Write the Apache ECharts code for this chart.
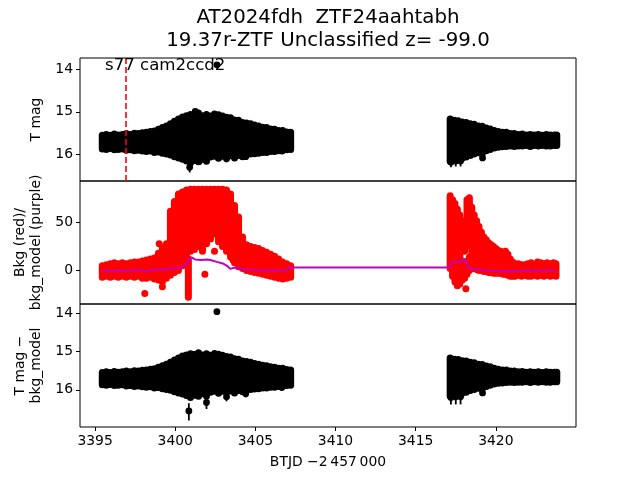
<!DOCTYPE html>
<html><head><meta charset="utf-8">
<script src="https://cdn.jsdelivr.net/npm/echarts@6/dist/echarts.min.js"></script>
<style>html,body{margin:0;padding:0;background:#fff}#c{width:640px;height:480px}</style>
</head><body><div id="c"></div>
<script>
// ---------- data ----------
const titleLines = ["AT2024fdh  ZTF24aahtabh", "19.37r-ZTF Unclassified z= -99.0"];
const sectorLabel = "s77 cam2ccd2";
const xLabel = "BTJD \u22122\u2009457\u2009000";
const xTicks = [3395, 3400, 3405, 3410, 3415, 3420];
const magTicks = [14, 15, 16];
const bkgTicks = [0, 50];
const markTime = 3396.94;

// black light-curve band (T mag): time, brightest, faintest
const blkT = [3395.45,3395.7,3395.95,3396.2,3396.45,3396.7,3396.95,3397.2,3397.45,3397.7,3397.95,3398.2,3398.45,3398.7,3398.95,3399.2,3399.45,3399.7,3399.95,3400.2,3400.45,3400.7,3400.95,3401.2,3401.45,3401.7,3401.95,3402.2,3402.45,3402.7,3402.95,3403.2,3403.45,3403.7,3403.95,3404.2,3404.45,3404.7,3404.95,3405.2,3405.45,3405.7,3405.95,3406.2,3406.45,3406.7,3406.95,3407.2,
 3417.15,3417.4,3417.65,3417.9,3418.15,3418.4,3418.65,3418.9,3419.15,3419.4,3419.65,3419.9,3420.15,3420.4,3420.65,3420.9,3421.15,3421.4,3421.65,3421.9,3422.15,3422.4,3422.65,3422.9,3423.15,3423.4,3423.65,3423.8];
const blkTop = [15.55,15.53,15.55,15.52,15.54,15.53,15.51,15.53,15.50,15.51,15.49,15.48,15.46,15.45,15.41,15.37,15.33,15.28,15.22,15.17,15.12,15.09,15.06,15.08,15.03,15.09,15.06,15.10,15.05,15.07,15.10,15.13,15.14,15.19,15.20,15.25,15.26,15.28,15.31,15.33,15.36,15.37,15.40,15.41,15.44,15.44,15.47,15.48,
 15.17,15.20,15.21,15.24,15.25,15.28,15.29,15.33,15.34,15.38,15.40,15.44,15.46,15.48,15.48,15.51,15.51,15.53,15.52,15.54,15.53,15.54,15.53,15.55,15.53,15.54,15.54,15.54];
const blkBot = [15.87,15.88,15.86,15.89,15.88,15.87,15.90,15.89,15.91,15.90,15.92,15.93,15.92,15.95,15.94,15.97,15.99,16.01,16.05,16.08,16.11,16.15,16.20,16.14,16.17,16.10,16.16,16.06,16.04,16.09,16.04,16.07,16.03,16.08,16.02,16.05,16.00,15.99,15.98,15.97,15.95,15.95,15.93,15.93,15.91,15.90,15.89,15.88,
 16.16,16.13,16.13,16.09,16.06,16.02,15.99,15.96,15.98,15.91,15.88,15.85,15.83,15.82,15.81,15.80,15.81,15.80,15.80,15.79,15.81,15.79,15.80,15.79,15.80,15.80,15.79,15.79];

// individual points with error bars (panel 1): time, mag, low, high
const err1T = [3400.9, 3401.25, 3401.6, 3403.2, 3404.4, 3406.67, 3417.2, 3417.5, 3417.8, 3419.17, 3402.6];
const err1M = [16.30, 14.99, 16.12, 16.10, 16.05, 15.92, 16.18, 16.15, 16.15, 16.08, 13.90];
const err1Lo = [16.18, 14.96, 16.05, 16.02, 16.00, 15.90, 16.10, 16.08, 16.08, 16.04, 13.88];
const err1Hi = [16.42, 15.02, 16.23, 16.18, 16.10, 15.94, 16.30, 16.28, 16.28, 16.12, 13.92];
// panel 3 (T mag - bkg_model)
const err3T = [3400.85, 3401.2, 3401.95, 3403.2, 3404.4, 3406.65, 3417.2, 3417.5, 3417.8, 3419.17, 3402.6];
const err3M = [16.55, 15.08, 16.33, 16.18, 16.10, 15.94, 16.20, 16.18, 16.18, 16.08, 13.96];
const err3Lo = [16.35, 15.05, 16.20, 16.05, 16.02, 15.92, 16.10, 16.08, 16.08, 16.04, 13.94];
const err3Hi = [16.80, 15.11, 16.50, 16.30, 16.20, 15.96, 16.38, 16.38, 16.38, 16.12, 13.98];

// background flux (red): time, low, high
const redT = [3395.45,3395.7,3395.95,3396.2,3396.45,3396.7,3396.95,3397.2,3397.45,3397.7,3397.95,3398.2,3398.45,3398.7,3398.95,3399.2,3399.45,3399.7,3399.95,3400.2,3400.45,3400.7,3400.95,3401.2,3401.45,3401.7,3401.95,3402.2,3402.45,3402.7,3402.95,3403.2,3403.45,3403.7,3403.95,3404.2,3404.45,3404.7,3404.95,3405.2,3405.45,3405.7,3405.95,3406.2,3406.45,3406.7,3406.95,3407.2,
 3398.1,3399.2,3399.0,3400.82,3401.85,3402.45,3403.6,
 3417.15,3417.3,3417.45,3417.45,3417.6,3417.6,3417.75,3417.75,3417.9,3417.9,3418.05,3418.05,3418.2,3418.2,3418.35,3418.35,3418.5,3418.65,3418.8,3418.95,3419.1,3419.25,3419.4,3419.55,3419.7,3419.85,3420.0,3420.15,3420.3,3420.45,3420.6,3420.75,3420.9,3421.05,3421.2,3421.4,3421.6,3421.8,3422.0,3422.2,3422.4,3422.6,3422.8,3423.0,3423.2,3423.4,3423.6,3423.75,
 3418.13];
const redLo = [-7,-6,-7,-6,-7,-6,-7,-6,-7,-6,-8,-8,-7,-9,-10,-12,-8,-5,-2,0,5,14,20,22,25,20,28,33,38,30,25,20,14,8,4,2,0,-1,-2,-3,-4,-5,-6,-7,-8,-9,-8,-7,
 -24,-17,28,-28,-4,20,11,
 2,-6,-12,40,-16,34,-14,28,-10,24,-8,20,-4,28,0,26,2,2,1,0,0,-1,-1,-2,-2,-3,-3,-3,-3,-4,-4,-5,-6,-6,-6,-5,-6,-5,-6,-6,-5,-6,-5,-6,-5,-6,-5,-6,
 -19];
const redHi = [5,6,7,8,7,8,7,8,9,9,10,11,12,13,18,24,28,62,72,80,82,84,85,85,85,85,85,85,85,85,85,84,80,68,56,35,27,25,24,23,21,19,17,15,12,9,7,5,
 -24,-17,28,12,-4,20,11,
 78,74,30,70,22,64,16,58,10,52,6,48,10,74,14,76,66,58,52,46,40,35,32,29,27,25,23,21,20,18,20,17,12,9,7,7,6,6,7,8,6,9,8,7,8,7,8,7,
 -19];

// background model (purple)
const bkgT = [3395.42,3396.0,3396.5,3397.0,3397.5,3398.0,3398.2,3398.5,3399.0,3399.5,3399.69,3400.1,3400.3,3400.52,3400.75,3400.94,3401.1,3401.25,3401.6,3402.0,3402.19,3402.6,3403.02,3403.3,3403.44,3403.6,3403.85,3404.2,3404.48,3405.0,3405.31,3406.0,3406.56,3407.0,3407.08,3417.15,3417.2,3417.5,3417.81,3418.02,3418.15,3418.23,3418.44,3418.85,3419.5,3420.1,3420.8,3421.36,3422.0,3422.5,3423.0,3423.77];
const bkgV = [0,-0.5,0,-0.5,0.5,0,-1,0.5,1,1.5,2,3,2.5,5,8,14,13,11.5,11,11.5,11,9,7,4,1.7,2.5,3,1.5,0.7,0.5,0,0.3,0,0.3,3.2,3.2,8.5,9,10.5,11.5,8,5,1.7,0.8,0,-0.7,-0.5,-0.8,0,-0.3,0,0];

// ---------- build ----------
const FONT = 'DejaVu Sans';
const zip3 = (a, b, c) => a.map((v, i) => [v, b[i], c[i]]);
const zip4 = (a, b, c, d) => a.map((v, i) => [v, b[i], c[i], d[i]]);

function bandRender(color, width) {
  return function (params, api) {
    const p1 = api.coord([api.value(0), api.value(1)]);
    const p2 = api.coord([api.value(0), api.value(2)]);
    if (Math.abs(p1[1] - p2[1]) < 0.5) {
      return { type: 'circle', shape: { cx: p1[0], cy: p1[1], r: width / 2 }, style: { fill: color } };
    }
    return { type: 'line', shape: { x1: p1[0], y1: p1[1], x2: p2[0], y2: p2[1] },
      style: { stroke: color, lineWidth: width, lineCap: 'round' } };
  };
}
function errRender(color) {
  return function (params, api) {
    const c = api.coord([api.value(0), api.value(1)]);
    const lo = api.coord([api.value(0), api.value(2)]);
    const hi = api.coord([api.value(0), api.value(3)]);
    return { type: 'group', children: [
      { type: 'line', shape: { x1: lo[0], y1: lo[1], x2: hi[0], y2: hi[1] }, style: { stroke: color, lineWidth: 1.8 } },
      { type: 'circle', shape: { cx: c[0], cy: c[1], r: 3.4 }, style: { fill: color } }
    ] };
  };
}

const L = 80, R = 64, H = 123, tops = [58, 181, 304];
const grids = tops.map(t => ({ left: L, right: R, top: t, height: H, show: true, borderColor: '#000', borderWidth: 1, backgroundColor: 'transparent' }));

const labelStyle = { color: '#000', fontFamily: FONT, fontSize: 13.9, formatter: v => String(v) };
const xAxes = [0, 1, 2].map(i => ({
  type: 'value', gridIndex: i, min: 3394.06, max: 3425.0,
  axisLine: { show: false }, splitLine: { show: false },
  axisTick: { show: i === 2, customValues: xTicks, length: 4, lineStyle: { color: '#000' } },
  axisLabel: Object.assign({ show: i === 2, customValues: xTicks, margin: 7 }, labelStyle),
  name: i === 2 ? xLabel : '', nameLocation: 'middle', nameGap: 28,
  nameTextStyle: { color: '#000', fontFamily: FONT, fontSize: 13.9 }
}));
function yAx(i, min, max, inverse, ticks, name, gap) {
  return { type: 'value', gridIndex: i, min: min, max: max, inverse: inverse,
    axisLine: { show: false }, splitLine: { show: false },
    axisTick: { show: true, customValues: ticks, length: 4, lineStyle: { color: '#000' } },
    axisLabel: Object.assign({ customValues: ticks, margin: 7 }, labelStyle),
    name: name, nameLocation: 'middle', nameGap: gap, nameRotate: 90,
    nameTextStyle: { color: '#000', fontFamily: FONT, fontSize: 13.9, lineHeight: 16, align: 'center' } };
}
const yAxes = [
  yAx(0, 13.74, 16.62, true, magTicks, 'T mag', 35),
  yAx(1, -35, 93.5, false, bkgTicks, 'Bkg (red)/\nbkg_model (purple)', 35),
  yAx(2, 13.76, 16.97, true, magTicks, 'T mag \u2212\nbkg_model', 35)
];

const series = [
  { type: 'custom', xAxisIndex: 0, yAxisIndex: 0, data: zip3(blkT, blkTop, blkBot), renderItem: bandRender('#000', 7), clip: true, silent: true },
  { type: 'custom', xAxisIndex: 0, yAxisIndex: 0, data: zip4(err1T, err1M, err1Lo, err1Hi), renderItem: errRender('#000'), clip: true, silent: true },
  { type: 'scatter', xAxisIndex: 0, yAxisIndex: 0, data: [], silent: true,
    markLine: { symbol: 'none', silent: true, animation: false, label: { show: false },
      lineStyle: { color: '#ff0000', type: [6, 3], width: 1.6 }, data: [{ xAxis: markTime }] } },
  { type: 'custom', xAxisIndex: 1, yAxisIndex: 1, data: zip3(redT, redLo, redHi), renderItem: bandRender('#ff0000', 7), clip: true, silent: true },
  { type: 'line', xAxisIndex: 1, yAxisIndex: 1, data: bkgT.map((t, i) => [t, bkgV[i]]), showSymbol: false, symbol: 'none',
    lineStyle: { color: '#bf00bf', width: 2 }, silent: true, z: 5 },
  { type: 'custom', xAxisIndex: 2, yAxisIndex: 2, data: zip3(blkT, blkTop, blkBot), renderItem: bandRender('#000', 7), clip: true, silent: true },
  { type: 'custom', xAxisIndex: 2, yAxisIndex: 2, data: zip4(err3T, err3M, err3Lo, err3Hi), renderItem: errRender('#000'), clip: true, silent: true }
];

const chart = echarts.init(document.getElementById('c'), null, { renderer: 'canvas' });
chart.setOption({
  animation: false,
  backgroundColor: '#fff',
  grid: grids, xAxis: xAxes, yAxis: yAxes, series: series,
  graphic: [
    { type: 'text', x: 328, y: 8, z: 10,
      style: { text: titleLines[0], font: '19.8px "DejaVu Sans"', fill: '#000', align: 'center', verticalAlign: 'top' } },
    { type: 'text', x: 328, y: 31, z: 10,
      style: { text: titleLines[1], font: '19.8px "DejaVu Sans"', fill: '#000', align: 'center', verticalAlign: 'top' } },
    { type: 'text', x: 105, y: 57, z: 10,
      style: { text: sectorLabel, font: '16.6px "DejaVu Sans"', fill: '#000' } }
  ]
});
</script></body></html>
